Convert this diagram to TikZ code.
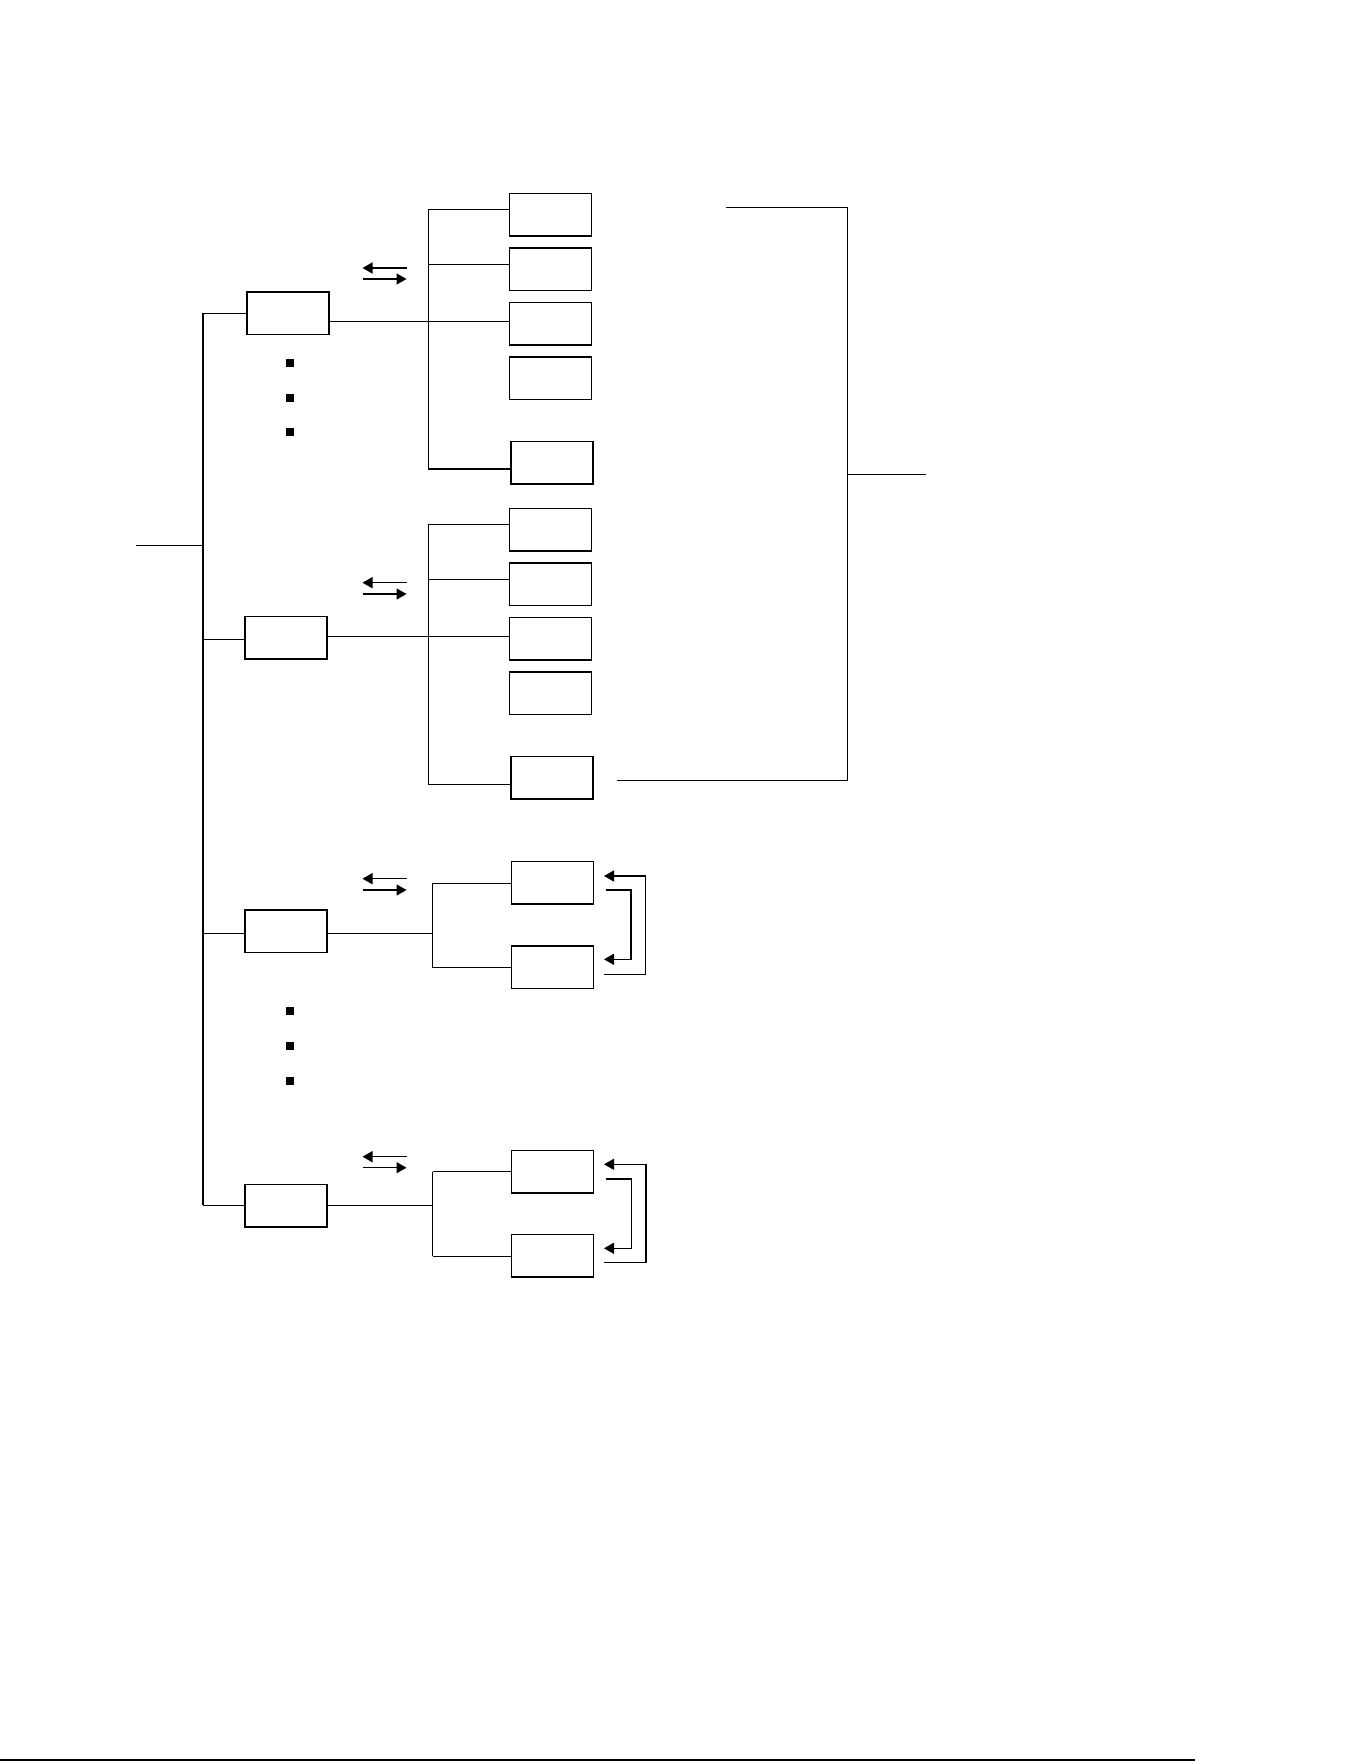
\documentclass[tikz,border=0pt]{standalone}
\usetikzlibrary{arrows.meta}
\begin{document}
\begin{tikzpicture}[x=0.5pt,y=-0.5pt,
  box/.style={draw, line width=0.75pt, minimum width=41pt, minimum height=21.25pt, inner sep=0pt, outer sep=0pt},
  ln/.style={line width=0.75pt},
  arr/.style={line width=0.75pt, -{Triangle[length=5pt,width=5.5pt]}},
  bul/.style={fill=black, minimum size=4pt, inner sep=0pt, outer sep=0pt}]
\useasboundingbox (0,0) rectangle (1361,1761);
% bottom rule
\coordinate (bl) at (0,1759.5);
\coordinate (br) at (1195,1759.5);
\draw[line width=1pt] (bl) -- (br);

% ---------- trunk ----------
\coordinate (st) at (136,545.3);
\coordinate (tk0) at (203,545.3);
\coordinate (tk1) at (203,313.3);
\coordinate (tk2) at (203,639.3);
\coordinate (tk3) at (203,933.3);
\coordinate (tk4) at (203,1205.3);
\draw[ln] (st) -- (tk0);
\draw[ln] (tk1) -- (tk4);

% ---------- middle boxes ----------
\node[box] (m1) at (288,313.3) {};
\node[box] (m2) at (286,637.8) {};
\node[box] (m3) at (286,931.3) {};
\node[box] (m4) at (286.2,1205.5) {};
\draw[ln] (tk1) -- (m1.west);
\draw[ln] (tk2) -- (m2.west |- tk2);
\draw[ln] (tk3) -- (m3.west |- tk3);
\draw[ln] (tk4) -- (m4.west |- tk4);

% ---------- group 1 ----------
\node[box] (r11) at (550.5,214.8) {};
\node[box] (r12) at (550.5,269.3) {};
\node[box] (r13) at (550.5,323.8) {};
\node[box] (r14) at (550.5,378.3) {};
\node[box] (r15) at (552.2,462.5) {};
\coordinate (b11) at (428.3,209.3);
\coordinate (b12) at (428.3,264.3);
\coordinate (b13) at (428.3,321.3);
\coordinate (b15) at (428.3,469);
\draw[ln] (b11) -- (b15);
\draw[ln] (m1.east |- b13) -- (b13);
\draw[ln] (b11) -- (r11.west |- b11);
\draw[ln] (b12) -- (r12.west |- b12);
\draw[ln] (b13) -- (r13.west |- b13);
\draw[ln] (b15) -- (r15.west |- b15);
\coordinate (a1l) at (406.5,268);
\coordinate (a1r) at (362.5,268);
\coordinate (a1s) at (362.5,279);
\coordinate (a1e) at (406.5,279);
\draw[arr] (a1l) -- (a1r);
\draw[arr] (a1s) -- (a1e);
\node[bul] (d11) at (290,363) {};
\node[bul] (d12) at (290,398) {};
\node[bul] (d13) at (290,432.3) {};

% ---------- group 2 ----------
\node[box] (r21) at (550.5,529.8) {};
\node[box] (r22) at (550.5,584.3) {};
\node[box] (r23) at (550.5,638.8) {};
\node[box] (r24) at (550.5,693.3) {};
\node[box] (r25) at (552.2,777.5) {};
\coordinate (b21) at (428.3,524.3);
\coordinate (b22) at (428.3,579.3);
\coordinate (b23) at (428.3,636.3);
\coordinate (b25) at (428.3,784.3);
\draw[ln] (b21) -- (b25);
\draw[ln] (m2.east |- b23) -- (b23);
\draw[ln] (b21) -- (r21.west |- b21);
\draw[ln] (b22) -- (r22.west |- b22);
\draw[ln] (b23) -- (r23.west |- b23);
\draw[ln] (b25) -- (r25.west |- b25);
\coordinate (a2l) at (406.5,582.7);
\coordinate (a2r) at (362.5,582.7);
\coordinate (a2s) at (362.5,594);
\coordinate (a2e) at (406.5,594);
\draw[arr] (a2l) -- (a2r);
\draw[arr] (a2s) -- (a2e);

% ---------- right bracket ----------
\coordinate (kt0) at (726,207.3);
\coordinate (kt1) at (847.3,207.3);
\coordinate (kb1) at (847.3,780.3);
\coordinate (kb0) at (616.7,780.3);
\coordinate (km0) at (847.3,474.7);
\coordinate (km1) at (926,474.7);
\draw[ln] (kt0) -- (kt1) -- (kb1) -- (kb0);
\draw[ln] (km0) -- (km1);

% ---------- group 3 ----------
\node[box] (r31) at (552.3,882.8) {};
\node[box] (r32) at (552.3,967) {};
\coordinate (b31) at (432.3,883.3);
\coordinate (b3m) at (432.3,933.3);
\coordinate (b32) at (432.3,967.3);
\draw[ln] (b31) -- (b32);
\draw[ln] (m3.east |- b3m) -- (b3m);
\draw[ln] (b31) -- (r31.west |- b31);
\draw[ln] (b32) -- (r32.west |- b32);
\coordinate (a3l) at (406.5,878.7);
\coordinate (a3r) at (362.5,878.7);
\coordinate (a3s) at (362.5,890);
\coordinate (a3e) at (406.5,890);
\draw[arr] (a3l) -- (a3r);
\draw[arr] (a3s) -- (a3e);
\node[bul] (d31) at (290,1011.3) {};
\node[bul] (d32) at (290,1046) {};
\node[bul] (d33) at (290,1080.7) {};
\coordinate (f3o0) at (604,974.3);
\coordinate (f3o1) at (645.7,974.3);
\coordinate (f3o2) at (645.7,876);
\coordinate (f3o3) at (604,876);
\draw[arr] (f3o0) -- (f3o1) -- (f3o2) -- (f3o3);
\coordinate (f3i0) at (605.7,890);
\coordinate (f3i1) at (631,890);
\coordinate (f3i2) at (631,959.3);
\coordinate (f3i3) at (604,959.3);
\draw[arr] (f3i0) -- (f3i1) -- (f3i2) -- (f3i3);

% ---------- group 4 ----------
\node[box] (r41) at (552.5,1171.7) {};
\node[box] (r42) at (552.5,1255.8) {};
\coordinate (b41) at (432.5,1171.7);
\coordinate (b4m) at (432.5,1205.3);
\coordinate (b42) at (432.5,1256.3);
\draw[ln] (b41) -- (b42);
\draw[ln] (m4.east |- b4m) -- (b4m);
\draw[ln] (b41) -- (r41.west |- b41);
\draw[ln] (b42) -- (r42.west |- b42);
\coordinate (a4l) at (406.5,1156.7);
\coordinate (a4r) at (362.5,1156.7);
\coordinate (a4s) at (362.5,1167.7);
\coordinate (a4e) at (406.5,1167.7);
\draw[arr] (a4l) -- (a4r);
\draw[arr] (a4s) -- (a4e);
\coordinate (f4o0) at (604,1262.7);
\coordinate (f4o1) at (646,1262.7);
\coordinate (f4o2) at (646,1164.3);
\coordinate (f4o3) at (604,1164.3);
\draw[arr] (f4o0) -- (f4o1) -- (f4o2) -- (f4o3);
\coordinate (f4i0) at (605.7,1179);
\coordinate (f4i1) at (631.4,1179);
\coordinate (f4i2) at (631.4,1248.3);
\coordinate (f4i3) at (604,1248.3);
\draw[arr] (f4i0) -- (f4i1) -- (f4i2) -- (f4i3);
\end{tikzpicture}
\end{document}
